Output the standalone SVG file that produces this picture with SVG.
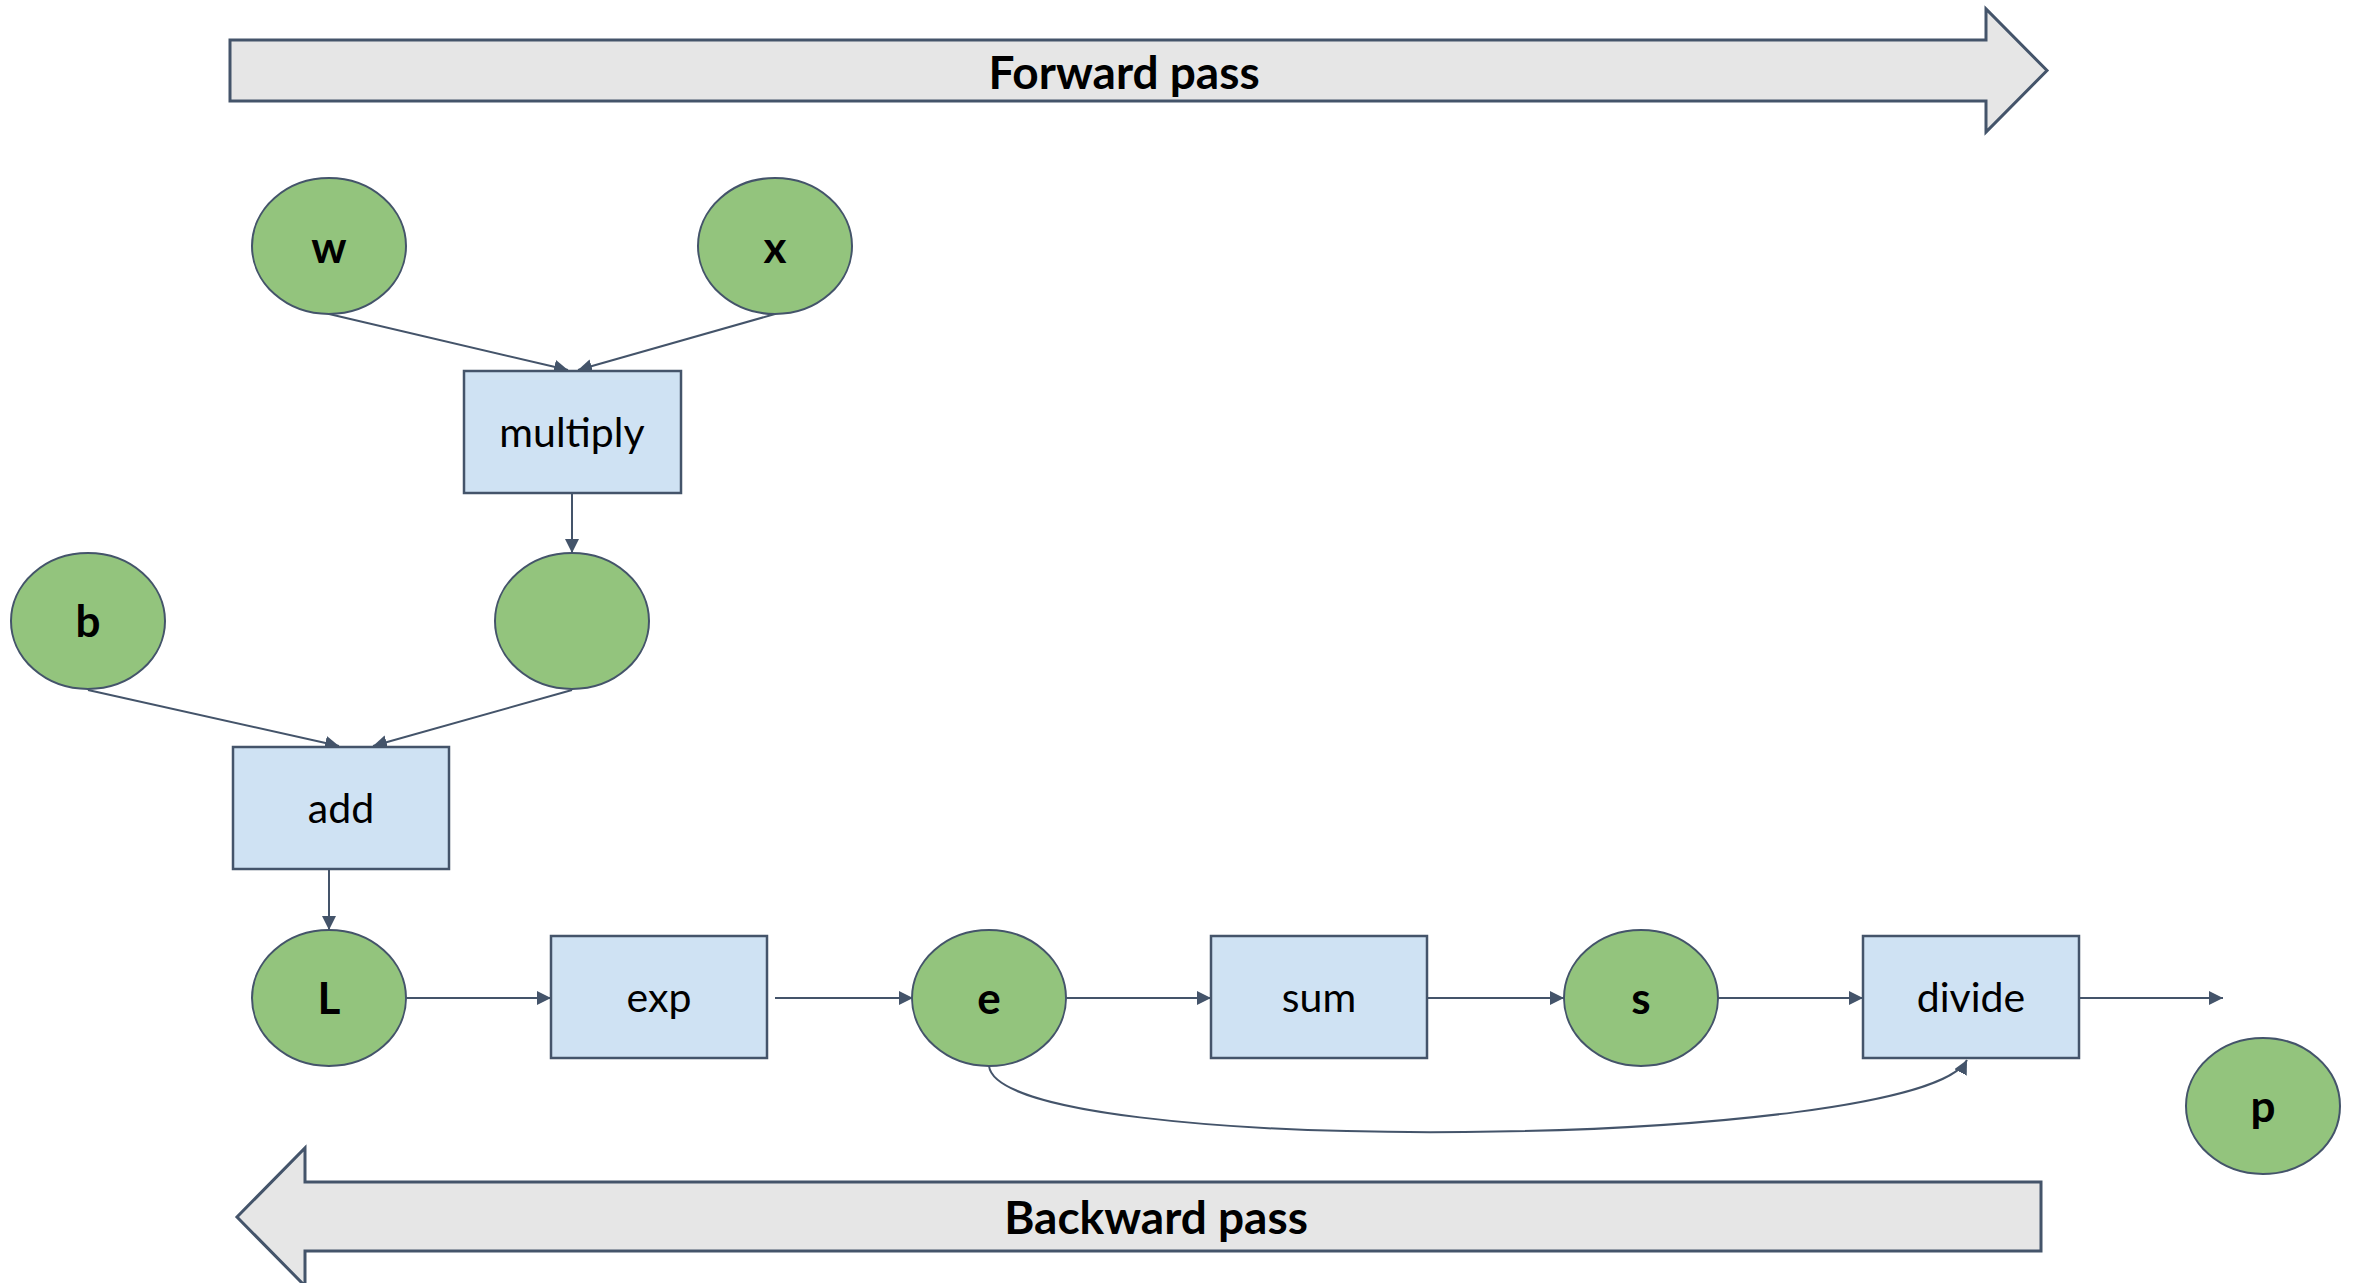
<svg xmlns="http://www.w3.org/2000/svg" width="2356" height="1283" viewBox="0 0 2356 1283">
  <style>
    .var { fill: #93C47D; stroke: #44546A; stroke-width: 2; }
    .op { fill: #CFE2F3; stroke: #44546A; stroke-width: 2.5; }
    .pass { fill: #E6E6E6; stroke: #44546A; stroke-width: 3; }
    .edge { fill: none; stroke: #44546A; stroke-width: 2; marker-end: url(#head); }
    .vlabel { font-family: Lato, "Liberation Sans", sans-serif; font-weight: bold; font-size: 44px; fill: #000; text-anchor: middle; }
    .olabel { font-family: Lato, "Liberation Sans", sans-serif; font-size: 41px; fill: #000; text-anchor: middle; }
    .plabel { font-family: Lato, "Liberation Sans", sans-serif; font-weight: bold; font-size: 46px; fill: #000; text-anchor: middle; }
  </style>
  <defs>
    <marker id="head" viewBox="0 0 14 14" refX="14" refY="7" markerWidth="14" markerHeight="14" markerUnits="userSpaceOnUse" orient="auto">
      <path d="M0,0 L14,7 L0,14 Z" fill="#44546A"/>
    </marker>
  </defs>

  <rect width="2356" height="1283" fill="#FFFFFF"/>

  <!-- direction banners -->
  <g id="forward-pass">
    <polygon class="pass" points="230,40 1986,40 1986,9 2047,70.5 1986,132 1986,101 230,101"/>
    <text class="plabel" x="1124" y="89">Forward pass</text>
  </g>
  <g id="backward-pass">
    <polygon class="pass" points="2041,1182 305,1182 305,1148 237,1217 305,1286 305,1251 2041,1251"/>
    <text class="plabel" x="1156" y="1234">Backward pass</text>
  </g>

  <!-- connectors -->
  <g id="connectors">
    <line class="edge" x1="329" y1="314" x2="568" y2="370"/>
    <line class="edge" x1="775" y1="314" x2="578" y2="370"/>
    <line class="edge" x1="572" y1="493" x2="572" y2="553"/>
    <line class="edge" x1="88" y1="690" x2="339" y2="746"/>
    <line class="edge" x1="572" y1="690" x2="373" y2="746"/>
    <line class="edge" x1="329" y1="869" x2="329" y2="930"/>
    <line class="edge" x1="406" y1="998" x2="551" y2="998"/>
    <line class="edge" x1="775" y1="998" x2="913" y2="998"/>
    <line class="edge" x1="1066" y1="998" x2="1211" y2="998"/>
    <line class="edge" x1="1426" y1="998" x2="1564" y2="998"/>
    <line class="edge" x1="1718" y1="998" x2="1863" y2="998"/>
    <line class="edge" x1="2078" y1="998" x2="2223" y2="998"/>
    <path class="edge" d="M989,1066 C1000,1160 1920,1150 1967,1060"/>
  </g>

  <!-- nodes -->
  <g id="node-w">
    <ellipse class="var" cx="329" cy="246" rx="77" ry="68"/>
    <text class="vlabel" x="329" y="263">w</text>
  </g>
  <g id="node-x">
    <ellipse class="var" cx="775" cy="246" rx="77" ry="68"/>
    <text class="vlabel" x="775" y="263">x</text>
  </g>
  <g id="node-multiply">
    <rect class="op" x="464" y="371" width="217" height="122"/>
    <text class="olabel" x="572" y="447">multiply</text>
  </g>
  <g id="node-b">
    <ellipse class="var" cx="88" cy="621" rx="77" ry="68"/>
    <text class="vlabel" x="88" y="637">b</text>
  </g>
  <g id="node-product">
    <ellipse class="var" cx="572" cy="621" rx="77" ry="68"/>
  </g>
  <g id="node-add">
    <rect class="op" x="233" y="747" width="216" height="122"/>
    <text class="olabel" x="341" y="823">add</text>
  </g>
  <g id="node-L">
    <ellipse class="var" cx="329" cy="998" rx="77" ry="68"/>
    <text class="vlabel" x="329" y="1014">L</text>
  </g>
  <g id="node-exp">
    <rect class="op" x="551" y="936" width="216" height="122"/>
    <text class="olabel" x="659" y="1012">exp</text>
  </g>
  <g id="node-e">
    <ellipse class="var" cx="989" cy="998" rx="77" ry="68"/>
    <text class="vlabel" x="989" y="1014">e</text>
  </g>
  <g id="node-sum">
    <rect class="op" x="1211" y="936" width="216" height="122"/>
    <text class="olabel" x="1319" y="1012">sum</text>
  </g>
  <g id="node-s">
    <ellipse class="var" cx="1641" cy="998" rx="77" ry="68"/>
    <text class="vlabel" x="1641" y="1014">s</text>
  </g>
  <g id="node-divide">
    <rect class="op" x="1863" y="936" width="216" height="122"/>
    <text class="olabel" x="1971" y="1012">divide</text>
  </g>
  <g id="node-p">
    <ellipse class="var" cx="2263" cy="1106" rx="77" ry="68"/>
    <text class="vlabel" x="2263" y="1122">p</text>
  </g>
</svg>
